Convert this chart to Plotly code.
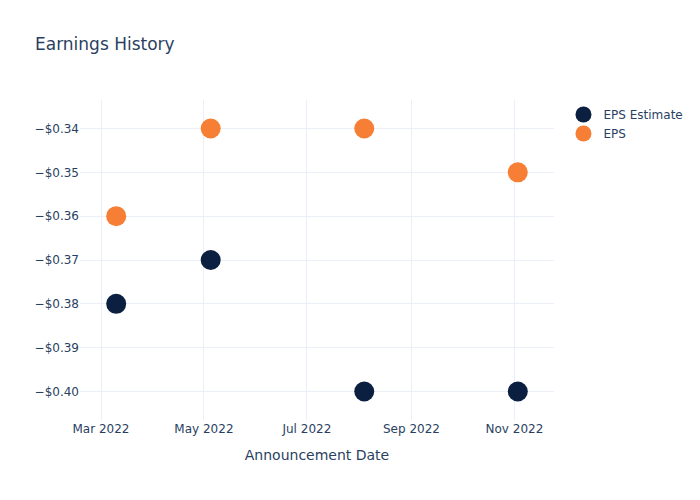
import plotly.graph_objects as go

dates = ["2022-03-10", "2022-05-05", "2022-08-04", "2022-11-03"]
eps_estimate = [-0.38, -0.37, -0.40, -0.40]
eps_actual = [-0.36, -0.34, -0.34, -0.35]

fig = go.Figure()
fig.add_trace(go.Scatter(x=dates, y=eps_estimate, mode="markers", name="EPS Estimate",
                         marker=dict(size=20, color="#0b1f40")))
fig.add_trace(go.Scatter(x=dates, y=eps_actual, mode="markers", name="EPS",
                         marker=dict(size=20, color="#f67f35")))
fig.update_layout(
    template="plotly_white",
    width=700, height=500,
    font=dict(family="DejaVu Sans"),
    title=dict(text="Earnings History"),
    xaxis=dict(title=dict(text="Announcement Date")),
    yaxis=dict(tickformat="$.2f"),
)
fig.write_html("out.html")
